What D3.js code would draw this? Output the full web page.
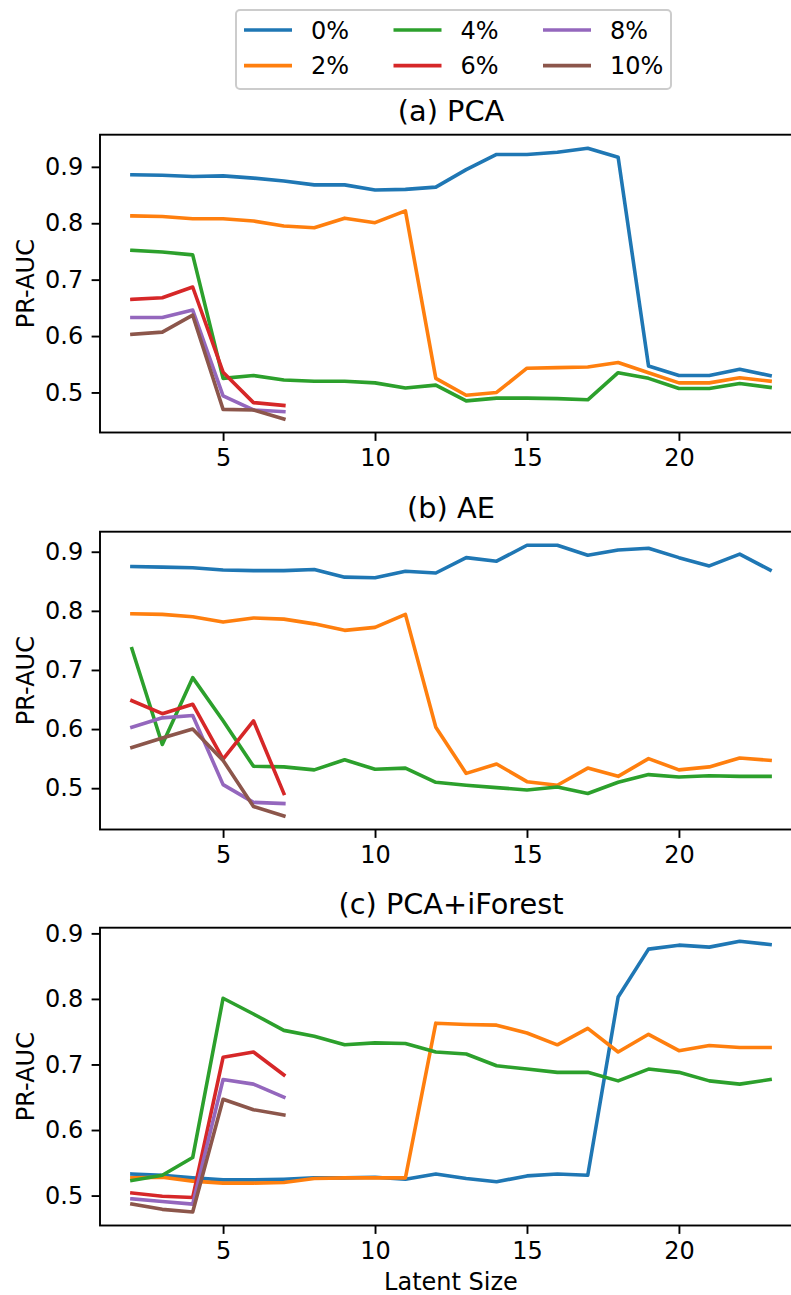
<!DOCTYPE html>
<html>
<head>
  <meta charset="utf-8">
  <title>PR-AUC vs latent size</title>
  <script src="https://cdn.jsdelivr.net/npm/d3@7"></script>
  <style>
    body { margin: 0; background: #fff; }
    text { font-family: "DejaVu Sans", sans-serif; fill: #000; }
  </style>
</head>
<body>
  <svg width="791" height="1295" id="mainsvg"></svg>
  <script>
    // latent sizes on the x axis
    const latentSizes = [2, 3, 4, 5, 6, 7, 8, 9, 10, 11, 12, 13, 14, 15, 16, 17, 18, 19, 20, 21, 22, 23];
    const seriesNames = ['0%', '2%', '4%', '6%', '8%', '10%'];
    const colors = ['#1f77b4', '#ff7f0e', '#2ca02c', '#d62728', '#9467bd', '#8c564b'];
    const panelTitles = ['(a) PCA', '(b) AE', '(c) PCA+iForest'];
    const yTicks = [0.5, 0.6, 0.7, 0.8, 0.9];
    const xTicks = [5, 10, 15, 20];

    // (a) PCA
    const pca0 = [0.886, 0.885, 0.883, 0.884, 0.880, 0.875, 0.868, 0.868, 0.859, 0.860, 0.864, 0.895, 0.922, 0.922, 0.926, 0.933, 0.917, 0.547, 0.530, 0.530, 0.541, 0.530];
    const pca2 = [0.813, 0.812, 0.808, 0.808, 0.804, 0.795, 0.792, 0.809, 0.801, 0.822, 0.525, 0.495, 0.500, 0.543, 0.544, 0.545, 0.553, 0.535, 0.517, 0.517, 0.526, 0.520];
    const pca4 = [0.752, 0.749, 0.744, 0.525, 0.530, 0.522, 0.520, 0.520, 0.517, 0.508, 0.513, 0.485, 0.490, 0.490, 0.489, 0.487, 0.535, 0.525, 0.507, 0.507, 0.516, 0.509];
    const pca6 = [0.665, 0.668, 0.687, 0.536, 0.482, 0.477];
    const pca8 = [0.633, 0.633, 0.646, 0.494, 0.469, 0.466];
    const pca10 = [0.603, 0.607, 0.637, 0.470, 0.469, 0.453];

    // (b) AE
    const ae0 = [0.875, 0.874, 0.873, 0.869, 0.868, 0.868, 0.870, 0.857, 0.856, 0.867, 0.864, 0.890, 0.884, 0.911, 0.911, 0.894, 0.903, 0.906, 0.890, 0.876, 0.896, 0.869];
    const ae2 = [0.795, 0.794, 0.790, 0.781, 0.788, 0.786, 0.778, 0.767, 0.772, 0.794, 0.603, 0.525, 0.541, 0.511, 0.505, 0.534, 0.520, 0.550, 0.531, 0.536, 0.551, 0.547];
    const ae4 = [0.736, 0.574, 0.687, 0.614, 0.537, 0.536, 0.531, 0.548, 0.532, 0.534, 0.510, 0.505, 0.501, 0.497, 0.502, 0.491, 0.510, 0.523, 0.519, 0.521, 0.520, 0.520];
    const ae6 = [0.648, 0.626, 0.642, 0.549, 0.614, 0.491];
    const ae8 = [0.603, 0.619, 0.623, 0.506, 0.476, 0.474];
    const ae10 = [0.569, 0.585, 0.600, 0.547, 0.469, 0.453];

    // (c) PCA+iForest
    const pif0 = [0.533, 0.531, 0.527, 0.524, 0.524, 0.525, 0.527, 0.527, 0.528, 0.525, 0.533, 0.526, 0.521, 0.530, 0.533, 0.531, 0.803, 0.876, 0.882, 0.879, 0.888, 0.883];
    const pif2 = [0.527, 0.528, 0.522, 0.519, 0.519, 0.520, 0.526, 0.527, 0.527, 0.527, 0.763, 0.761, 0.760, 0.748, 0.730, 0.755, 0.719, 0.746, 0.721, 0.729, 0.726, 0.726];
    const pif4 = [0.523, 0.531, 0.558, 0.801, 0.777, 0.752, 0.743, 0.730, 0.733, 0.732, 0.719, 0.716, 0.698, 0.693, 0.688, 0.688, 0.675, 0.693, 0.688, 0.675, 0.670, 0.677];
    const pif6 = [0.504, 0.499, 0.497, 0.711, 0.719, 0.684];
    const pif8 = [0.495, 0.491, 0.487, 0.677, 0.670, 0.650];
    const pif10 = [0.487, 0.479, 0.475, 0.647, 0.631, 0.623];

    const panels = [
      [pca0, pca2, pca4, pca6, pca8, pca10],
      [ae0, ae2, ae4, ae6, ae8, ae10],
      [pif0, pif2, pif4, pif6, pif8, pif10]
    ];

    const svg = d3.select('#mainsvg');
    const left = 100, right = 802;
    const tops = [134.7, 531.7, 927.7];
    const plotH = 297.8;
    const tickLen = 8.4, tickPad = 8.4;

    // matplotlib style 5% margins
    const xScale = d3.scaleLinear()
      .domain([2 - 0.05 * 21, 23 + 0.05 * 21])
      .range([left, right]);

    const defs = svg.append('defs');

    panels.forEach((series, p) => {
      const top = tops[p];
      const bottom = top + plotH;
      const all = series.flat();
      const lo = d3.min(all), hi = d3.max(all);
      const pad = (hi - lo) * 0.05;
      const yScale = d3.scaleLinear().domain([lo - pad, hi + pad]).range([bottom, top]);

      const g = svg.append('g').attr('class', 'panel');

      defs.append('clipPath').attr('id', 'clip' + p)
        .append('rect').attr('x', left).attr('y', top)
        .attr('width', right - left).attr('height', plotH);

      const line = d3.line()
        .x((d, i) => xScale(latentSizes[i]))
        .y(d => yScale(d));

      g.append('g').attr('clip-path', `url(#clip${p})`)
        .selectAll('path').data(series).join('path')
        .attr('d', d => line(d))
        .attr('fill', 'none')
        .attr('stroke', (d, i) => colors[i])
        .attr('stroke-width', 3.6)
        .attr('stroke-linejoin', 'round')
        .attr('stroke-linecap', 'square');

      // axes
      const yAxis = d3.axisLeft(yScale).tickValues(yTicks).tickFormat(d3.format('.1f'))
        .tickSize(tickLen).tickPadding(tickPad);
      const xAxis = d3.axisBottom(xScale).tickValues(xTicks).tickFormat(d3.format('d'))
        .tickSize(tickLen).tickPadding(tickPad);

      const ya = g.append('g').attr('transform', `translate(${left},0)`).call(yAxis);
      const xa = g.append('g').attr('transform', `translate(0,${bottom})`).call(xAxis);
      [ya, xa].forEach(a => {
        a.select('.domain').remove();
        a.selectAll('line').attr('stroke', '#000').attr('stroke-width', 1.9);
        a.selectAll('text').attr('font-size', 24).attr('font-family', '"DejaVu Sans", sans-serif').attr('fill', '#000');
      });

      // frame
      g.append('rect')
        .attr('x', left).attr('y', top)
        .attr('width', right - left).attr('height', plotH)
        .attr('fill', 'none').attr('stroke', '#000').attr('stroke-width', 1.9);

      g.append('text')
        .attr('x', (left + right) / 2).attr('y', top - 14)
        .attr('text-anchor', 'middle').attr('font-size', 28.8)
        .text(panelTitles[p]);

      g.append('text')
        .attr('transform', `translate(33.5,${(top + bottom) / 2}) rotate(-90)`)
        .attr('text-anchor', 'middle').attr('font-size', 24)
        .text('PR-AUC');
    });

    svg.append('text')
      .attr('x', (left + right) / 2).attr('y', 1289.5)
      .attr('text-anchor', 'middle').attr('font-size', 24)
      .text('Latent Size');

    // legend
    const legend = svg.append('g');
    legend.append('rect')
      .attr('x', 236).attr('y', 10).attr('width', 435).attr('height', 79)
      .attr('rx', 4).attr('fill', '#fff').attr('stroke', '#cccccc').attr('stroke-width', 2);
    const colX = [244, 393.5, 543];
    const rowY = [30, 65.6];
    const items = legend.selectAll('g.item').data(seriesNames).join('g').attr('class', 'item')
      .attr('transform', (d, i) => `translate(${colX[Math.floor(i / 2)]},${rowY[i % 2]})`);
    items.append('line').attr('x1', 0).attr('x2', 48).attr('y1', 0).attr('y2', 0)
      .attr('stroke', (d, i) => colors[i]).attr('stroke-width', 3.6);
    items.append('text').attr('x', 67).attr('y', 8.7).attr('font-size', 24).text(d => d);
  </script>
</body>
</html>
